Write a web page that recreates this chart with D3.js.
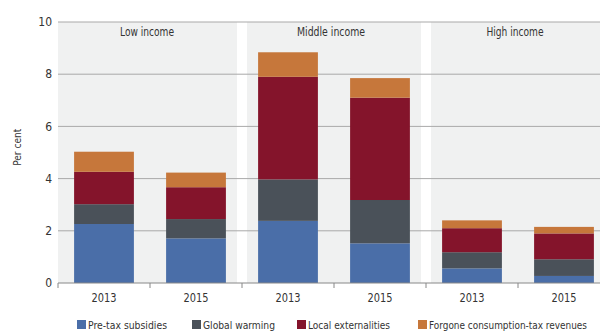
<!DOCTYPE html>
<html>
<head>
<meta charset="utf-8">
<script src="https://cdn.jsdelivr.net/npm/d3@7"></script>
<style>
  body { margin: 0; background: #fff; }
  svg { font-family: "Liberation Sans Narrow", "DejaVu Sans Condensed", "Roboto", sans-serif; }
</style>
</head>
<body>
<svg id="chart" width="600" height="333"></svg>
<script>
const groups = ["Low income", "Middle income", "High income"];
const years = ["2013", "2015"];
const seriesNames = ["Pre-tax subsidies", "Global warming", "Local externalities", "Forgone consumption-tax revenues"];
const colors = ["#4a6ea8", "#4a5159", "#84142b", "#c6773b"];
// segment heights per bar, in order Low13, Low15, Mid13, Mid15, High13, High15
const preTax = [2.26, 1.71, 2.38, 1.52, 0.56, 0.27];
const globalWarming = [0.76, 0.74, 1.59, 1.66, 0.62, 0.64];
const localExt = [1.24, 1.22, 3.93, 3.92, 0.92, 0.99];
const forgone = [0.77, 0.56, 0.94, 0.75, 0.30, 0.25];
const yTicks = [0, 2, 4, 6, 8, 10];

const svg = d3.select("#chart"),
  margin = { top: 22, right: -10, bottom: 50, left: 58 },
  width = +svg.attr("width") - margin.left - margin.right,
  height = +svg.attr("height") - margin.top - margin.bottom;

const g = svg.append("g").attr("transform", `translate(${margin.left},${margin.top})`);

const bars = [];
groups.forEach((grp, gi) => years.forEach((yr, yi) => bars.push({ key: grp + "|" + yr, grp, yr, i: gi * 2 + yi })));

const x = d3.scaleBand().domain(bars.map(d => d.key)).range([0, width]).paddingInner(0.35).paddingOuter(0.175);
const y = d3.scaleLinear().domain([0, 10]).range([height, 0]);
const step = x.step();

// panel backgrounds
g.selectAll(".panel").data(groups).enter().append("rect")
  .attr("x", (d, i) => i * 2 * step + (i === 0 ? 0 : 5))
  .attr("width", (d, i) => 2 * step - (i === 0 ? 5 : 10))
  .attr("y", 0)
  .attr("height", height)
  .attr("fill", "#f0f1f1");

// grid
g.selectAll(".grid").data(yTicks.slice(1)).enter().append("line")
  .attr("x1", 0).attr("x2", width)
  .attr("y1", d => y(d)).attr("y2", d => y(d))
  .attr("stroke", "#a9a9a9").attr("stroke-width", 1);

// y tick labels
g.selectAll(".ylab").data(yTicks).enter().append("text")
  .attr("x", -6).attr("y", d => y(d)).attr("dy", "0.35em")
  .attr("text-anchor", "end").attr("font-size", 12).attr("fill", "#333")
  .text(d => d);

g.append("text")
  .attr("transform", `translate(${21 - margin.left},${y(5.2)}) rotate(-90)`)
  .attr("text-anchor", "middle").attr("font-size", 11).attr("fill", "#333")
  .attr("textLength", 37).attr("lengthAdjust", "spacingAndGlyphs")
  .text("Per cent");

// group titles
const titleLen = [54, 68, 57];
g.selectAll(".gtitle").data(groups).enter().append("text")
  .attr("x", (d, i) => (i * 2 + 1) * step - 3)
  .attr("y", 14).attr("text-anchor", "middle")
  .attr("font-size", 12).attr("fill", "#333")
  .attr("textLength", (d, i) => titleLen[i]).attr("lengthAdjust", "spacingAndGlyphs")
  .text(d => d);

// stacked bars
const rows = bars.map(b => ({ key: b.key, s0: preTax[b.i], s1: globalWarming[b.i], s2: localExt[b.i], s3: forgone[b.i] }));
const stack = d3.stack().keys(["s0", "s1", "s2", "s3"])(rows);
g.selectAll(".series").data(stack).enter().append("g")
  .attr("fill", (d, i) => colors[i])
  .selectAll("rect").data(d => d).enter().append("rect")
  .attr("x", d => x(d.data.key))
  .attr("width", x.bandwidth())
  .attr("y", d => y(d[1]))
  .attr("height", d => y(d[0]) - y(d[1]));

// x axis
const xAxis = g.append("g").attr("transform", `translate(0,${height})`);
xAxis.append("line").attr("x1", 0).attr("x2", width).attr("stroke", "#888");
const ticks = d3.range(0, bars.length);
xAxis.selectAll(".tk").data(ticks).enter().append("line")
  .attr("x1", d => d * step).attr("x2", d => d * step)
  .attr("y1", 0).attr("y2", 5).attr("stroke", "#888");
xAxis.selectAll(".xl").data(bars).enter().append("text")
  .attr("x", d => x(d.key) + x.bandwidth() / 2)
  .attr("y", 19).attr("text-anchor", "middle")
  .attr("font-size", 12.5).attr("fill", "#333")
  .attr("textLength", 25).attr("lengthAdjust", "spacingAndGlyphs")
  .text(d => d.yr);

// legend
const legendX = [77, 192, 297, 418];
const legendLen = [79, 72, 82, 158];
const legend = svg.append("g").attr("transform", "translate(0,320)");
const li = legend.selectAll(".li").data(seriesNames).enter().append("g")
  .attr("transform", (d, i) => `translate(${legendX[i]},0)`);
li.append("rect").attr("width", 9).attr("height", 9).attr("fill", (d, i) => colors[i]);
li.append("text").attr("x", 11).attr("y", 9).attr("font-size", 10.5).attr("fill", "#333")
  .attr("textLength", (d, i) => legendLen[i]).attr("lengthAdjust", "spacingAndGlyphs")
  .text(d => d);
</script>
</body>
</html>
